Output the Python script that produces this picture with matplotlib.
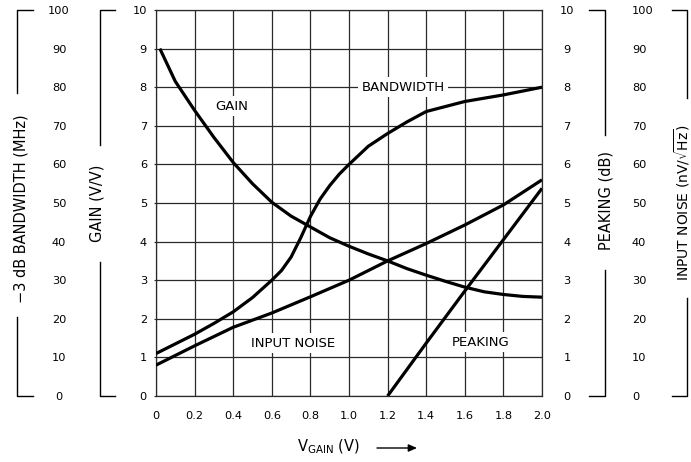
import matplotlib
matplotlib.use("Agg")
import matplotlib.pyplot as plt
from matplotlib.lines import Line2D
from matplotlib.patches import FancyArrowPatch
from matplotlib.transforms import blended_transform_factory

# --- data ---
gain_x = [0.02, 0.1, 0.2, 0.3, 0.4, 0.5, 0.6, 0.7, 0.8, 0.9, 1.0, 1.1, 1.2,
          1.3, 1.4, 1.5, 1.6, 1.7, 1.8, 1.9, 2.0]
gain_vv = [9.0, 8.15, 7.4, 6.7, 6.05, 5.5, 5.02, 4.66, 4.38, 4.1, 3.88, 3.68, 3.5,
           3.3, 3.13, 2.97, 2.82, 2.7, 2.63, 2.58, 2.56]

bw_x = [0.0, 0.2, 0.3, 0.4, 0.5, 0.6, 0.65, 0.7, 0.75, 0.8, 0.85, 0.9, 0.95,
        1.0, 1.1, 1.2, 1.3, 1.4, 1.5, 1.6, 1.8, 2.0]
bw_mhz = [11, 16, 18.8, 21.8, 25.5, 30, 32.5, 36, 41, 46.5, 51, 54.5, 57.5,
          60, 64.7, 68, 71, 73.7, 75, 76.3, 78, 80]

noise_x = [0.0, 0.1, 0.2, 0.4, 0.6, 0.8, 1.0, 1.2, 1.4, 1.6, 1.8, 2.0]
noise_nv = [8, 10.5, 13, 17.8, 21.5, 25.7, 30, 35, 39.5, 44.3, 49.5, 56]

peak_x = [1.2, 1.4, 1.6, 1.8, 2.0]
peak_db = [0, 1.37, 2.72, 4.05, 5.38]

x_ticks = [0, 0.2, 0.4, 0.6, 0.8, 1.0, 1.2, 1.4, 1.6, 1.8, 2.0]
x_labels = ["0", "0.2", "0.4", "0.6", "0.8", "1.0", "1.2", "1.4", "1.6", "1.8", "2.0"]
ten_ticks = list(range(0, 11))
hundred_ticks = list(range(0, 101, 10))

W, H = 691, 462
fig = plt.figure(figsize=(W / 100, H / 100), dpi=100)
L, R, T, B = 156, 542, 10, 396
ax = fig.add_axes([L / W, 1 - B / H, (R - L) / W, (B - T) / H])

TICK_FS = 8.2
LAB_FS = 10.5
CURVE_FS = 9.5
GRID = "#2a2a2a"

ax.set_xlim(0, 2.0)
ax.set_ylim(0, 10)
ax.set_xticks(x_ticks)
ax.set_xticklabels(x_labels)
ax.set_yticks(ten_ticks)
ax.grid(True, color=GRID, lw=0.9)
for s in ax.spines.values():
    s.set_color(GRID)
    s.set_linewidth(0.9)
ax.tick_params(axis="x", length=0, pad=10.5, labelsize=TICK_FS)
ax.tick_params(axis="y", length=1.5, pad=5, labelsize=TICK_FS, color=GRID)

# bandwidth scale (left, outer)
ax_bw = ax.twinx()
ax_bw.set_ylim(0, 100)
ax_bw.yaxis.set_ticks_position("left")
ax_bw.set_yticks(hundred_ticks)
ax_bw.spines["left"].set_position(("axes", (59 - L) / (R - L)))
for s in ax_bw.spines.values():
    s.set_visible(False)
ax_bw.tick_params(axis="y", length=0, pad=0, labelsize=TICK_FS)
for t in ax_bw.get_yticklabels():
    t.set_horizontalalignment("center")

# peaking scale (right, inner)
ax_pk = ax.twinx()
ax_pk.set_ylim(0, 10)
ax_pk.set_yticks(ten_ticks)
ax_pk.spines["right"].set_position(("axes", (567 - L) / (R - L)))
for s in ax_pk.spines.values():
    s.set_visible(False)
ax_pk.tick_params(axis="y", length=0, pad=0, labelsize=TICK_FS)
for t in ax_pk.get_yticklabels():
    t.set_horizontalalignment("center")

# input noise scale (right, outer)
ax_nz = ax.twinx()
ax_nz.set_ylim(0, 100)
ax_nz.set_yticks(hundred_ticks)
ax_nz.spines["right"].set_position(("axes", (632 - L) / (R - L)))
for s in ax_nz.spines.values():
    s.set_visible(False)
ax_nz.tick_params(axis="y", length=0, pad=0, labelsize=TICK_FS)

# curves
lw = 2.3
ax.plot(gain_x, gain_vv, color="black", lw=lw, solid_capstyle="butt")
ax_bw.plot(bw_x, bw_mhz, color="black", lw=lw, solid_capstyle="butt")
ax_nz.plot(noise_x, noise_nv, color="black", lw=lw, solid_capstyle="butt")
ax_pk.plot(peak_x, peak_db, color="black", lw=lw, solid_capstyle="butt")

box = dict(facecolor="white", edgecolor="none", pad=2.5)
ax.text(0.394, 7.51, "GAIN", fontsize=CURVE_FS, ha="center", va="center", bbox=box)
ax.text(1.28, 8.0, "BANDWIDTH", fontsize=CURVE_FS, ha="center", va="center", bbox=box)
ax.text(0.71, 1.37, "INPUT NOISE", fontsize=CURVE_FS, ha="center", va="center", bbox=box)
ax.text(1.684, 1.39, "PEAKING", fontsize=CURVE_FS, ha="center", va="center", bbox=box)

# bracket axis titles
tr = blended_transform_factory(fig.transFigure, ax.transData)


def bracket(xline, xend, gap_top, gap_bot, text, xtext, ytext, fs=LAB_FS):
    xl, xe = xline / W, xend / W
    for seg in ([(xe, 10), (xl, 10), (xl, gap_top)],
                [(xl, gap_bot), (xl, 0), (xe, 0)]):
        xs, ys = zip(*seg)
        fig.add_artist(Line2D(xs, ys, transform=tr, color="black", lw=1.0))
    fig.text(xtext / W, 1 - ytext / H, text, rotation=90, ha="center", va="center",
             fontsize=fs)


bracket(17, 33, 7.85, 2.05, "\u22123 dB BANDWIDTH (MHz)", 21, 209)
bracket(100, 115, 6.5, 3.47, "GAIN (V/V)", 97.5, 203)
bracket(605, 589, 6.76, 3.26, "PEAKING (dB)", 606, 200)
bracket(687, 672, 7.72, 2.54, r"INPUT NOISE (nV/$\sqrt{\mathregular{Hz}}$)", 682, 203,
        fs=10)

# x axis title with arrow
fig.text(328 / W, 1 - 447 / H, r"V$_{\mathregular{GAIN}}$ (V)", ha="center",
         va="center", fontsize=LAB_FS)
fig.add_artist(FancyArrowPatch(
    (377 / W, 1 - 448 / H), (417 / W, 1 - 448 / H), transform=fig.transFigure,
    arrowstyle="-|>,head_length=5,head_width=2.2", color="black", lw=1.0,
    shrinkA=0, shrinkB=0))

fig.savefig("out.png", dpi=100)
plt.close(fig)
